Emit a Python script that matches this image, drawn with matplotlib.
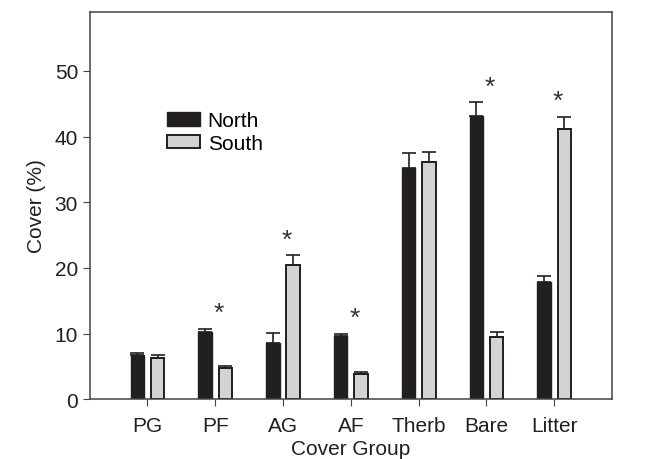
import numpy as np
import matplotlib.pyplot as plt

plt.rcParams['font.family'] = ['Liberation Sans', 'DejaVu Sans']

# Cover (%) by group
groups = ['PG', 'PF', 'AG', 'AF', 'Therb', 'Bare', 'Litter']
north = [6.7, 10.2, 8.5, 9.6, 35.2, 43.1, 17.9]
north_err = [0.4, 0.5, 1.6, 0.4, 2.3, 2.1, 0.9]
south = [6.2, 4.8, 20.5, 3.9, 36.1, 9.4, 41.1]
south_err = [0.6, 0.3, 1.4, 0.3, 1.6, 0.9, 1.9]
signif = [False, True, True, True, False, True, True]

x = np.arange(len(groups))
w = 0.2
off = 0.15

fig, ax = plt.subplots(figsize=(6.51, 4.6), dpi=100)
fig.subplots_adjust(left=0.138, right=0.94, top=0.972, bottom=0.13)

ekw = dict(elinewidth=1.2, capthick=1.2, ecolor='#231f20')
ax.bar(x - off, north, w, color='#231f20', edgecolor='#231f20', linewidth=1,
       yerr=[np.zeros(len(x)), north_err], capsize=5, error_kw=ekw, label='North')
ax.bar(x + off, south, w, color='#d1d3d4', edgecolor='#231f20', linewidth=1.4,
       yerr=[np.zeros(len(x)), south_err], capsize=5, error_kw=ekw, label='South')

# significance stars just above the taller error bar
for i in range(len(groups)):
    if signif[i]:
        top = max(north[i] + north_err[i], south[i] + south_err[i])
        ax.text(x[i] + 0.05, top + 0.6, '*', ha='center', va='bottom', fontsize=19,
                color='#333333')

ax.set_xlim(-0.85, 6.85)
ax.set_ylim(0, 59)
ax.set_yticks([0, 10, 20, 30, 40, 50])
ax.set_xticks(x)
ax.set_xticklabels(groups)
ax.tick_params(labelsize=15, length=5, color='#444444', labelcolor='#231f20')
ax.tick_params(axis='x', pad=7)
ax.set_xlabel('Cover Group', fontsize=15, labelpad=3, color='#231f20')
ax.set_ylabel('Cover (%)', fontsize=15, labelpad=6, color='#231f20')
for s in ax.spines.values():
    s.set_color('#444444')
    s.set_linewidth(1.1)

ax.legend(loc='upper left', bbox_to_anchor=(0.128, 0.77), frameon=False, fontsize=15,
          handlelength=1.6, handleheight=0.6, handletextpad=0.35, labelspacing=0.15,
          borderpad=0)

plt.savefig('out.png', dpi=100)
